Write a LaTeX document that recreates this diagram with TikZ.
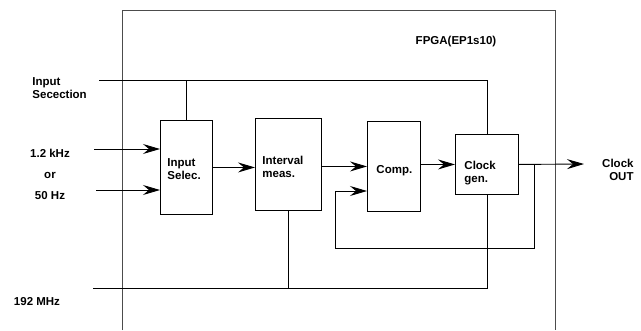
\documentclass[tikz,border=0pt]{standalone}
\usepackage{fontspec}
\setmainfont{Liberation Sans}
\usetikzlibrary{arrows.meta}

\begin{document}
\begin{tikzpicture}[x=1pt, y=-1pt, line width=0.9pt,
  blk/.style={draw, rectangle, anchor=north west, inner sep=0pt},
  lbl/.style={font=\bfseries\fontsize{11.5}{13}\selectfont, inner sep=0pt, align=left},
  sig/.style={-{Stealth[length=17pt,width=10pt,inset=6pt]}}]
  \useasboundingbox (0,0) rectangle (641,330);
  % FPGA outline, open at the bottom
  \draw[black!70] (122,330) -- (122,10) -- (555,10) -- (555,330);
  \node[lbl] (fpga) at (456,42) {FPGA(EP1s10)};
  % blocks
  \node[blk, minimum width=52pt, minimum height=94pt] (insel) at (160,120) {};
  \node[blk, minimum width=66pt, minimum height=92pt] (ivl) at (255,118) {};
  \node[blk, minimum width=53pt, minimum height=90pt] (cmp) at (367,121) {};
  \node[blk, minimum width=63pt, minimum height=60pt] (clk) at (455,134) {};
  \node[lbl, anchor=west] (insel-t) at (167,169) {Input\\Selec.};
  \node[lbl, anchor=west] (ivl-t) at (262,167) {Interval\\meas.};
  \node[lbl, anchor=west] (cmp-t) at (376,171) {Comp.};
  \node[lbl, anchor=west] (clk-t) at (464,173) {Clock\\gen.};
  % outside labels
  \node[lbl, anchor=north west] (sel-t) at (32,77) {Input\\Secection};
  \node[lbl, align=center, font=\bfseries\fontsize{11.5}{21}\selectfont] (freq-t) at (50,174) {1.2 kHz\\or\\50 Hz};
  \node[lbl] (mhz-t) at (37,302) {192 MHz};
  \node[lbl, anchor=east, align=right] (out-t) at (634,170) {Clock\\OUT};
  % free ends
  \coordinate (sel) at (99,80);
  \coordinate (in1) at (94,149);
  \coordinate (in2) at (96,190);
  \coordinate (mhz) at (93,288);
  \coordinate (out) at (584,164);
  \coordinate (fb) at (534,164);
  % input selection line
  \draw (sel) -- (sel -| clk.north) -- (clk.north);
  \draw (insel.north) -- (insel.north |- sel);
  % signal path
  \draw[sig] (in1) -- (in1 -| insel.west);
  \draw[sig] (in2) -- (in2 -| insel.west);
  \draw[sig] (insel.east) -- (insel.east -| ivl.west);
  \draw[sig] (ivl.east |- cmp.west) -- (cmp.west);
  \draw[sig] (cmp.east |- clk.west) -- (clk.west);
  \draw[sig] (clk.east) -- (out);
  % feedback into the comparator
  \draw[sig] (fb) -- (534,248) -- (335,248) -- (335,191) -- (cmp.west |- 335,191);
  % 192 MHz clock
  \draw (mhz) -- (mhz -| clk.south) -- (clk.south);
  \draw (ivl.south) -- (ivl.south |- mhz);
\end{tikzpicture}
\end{document}
